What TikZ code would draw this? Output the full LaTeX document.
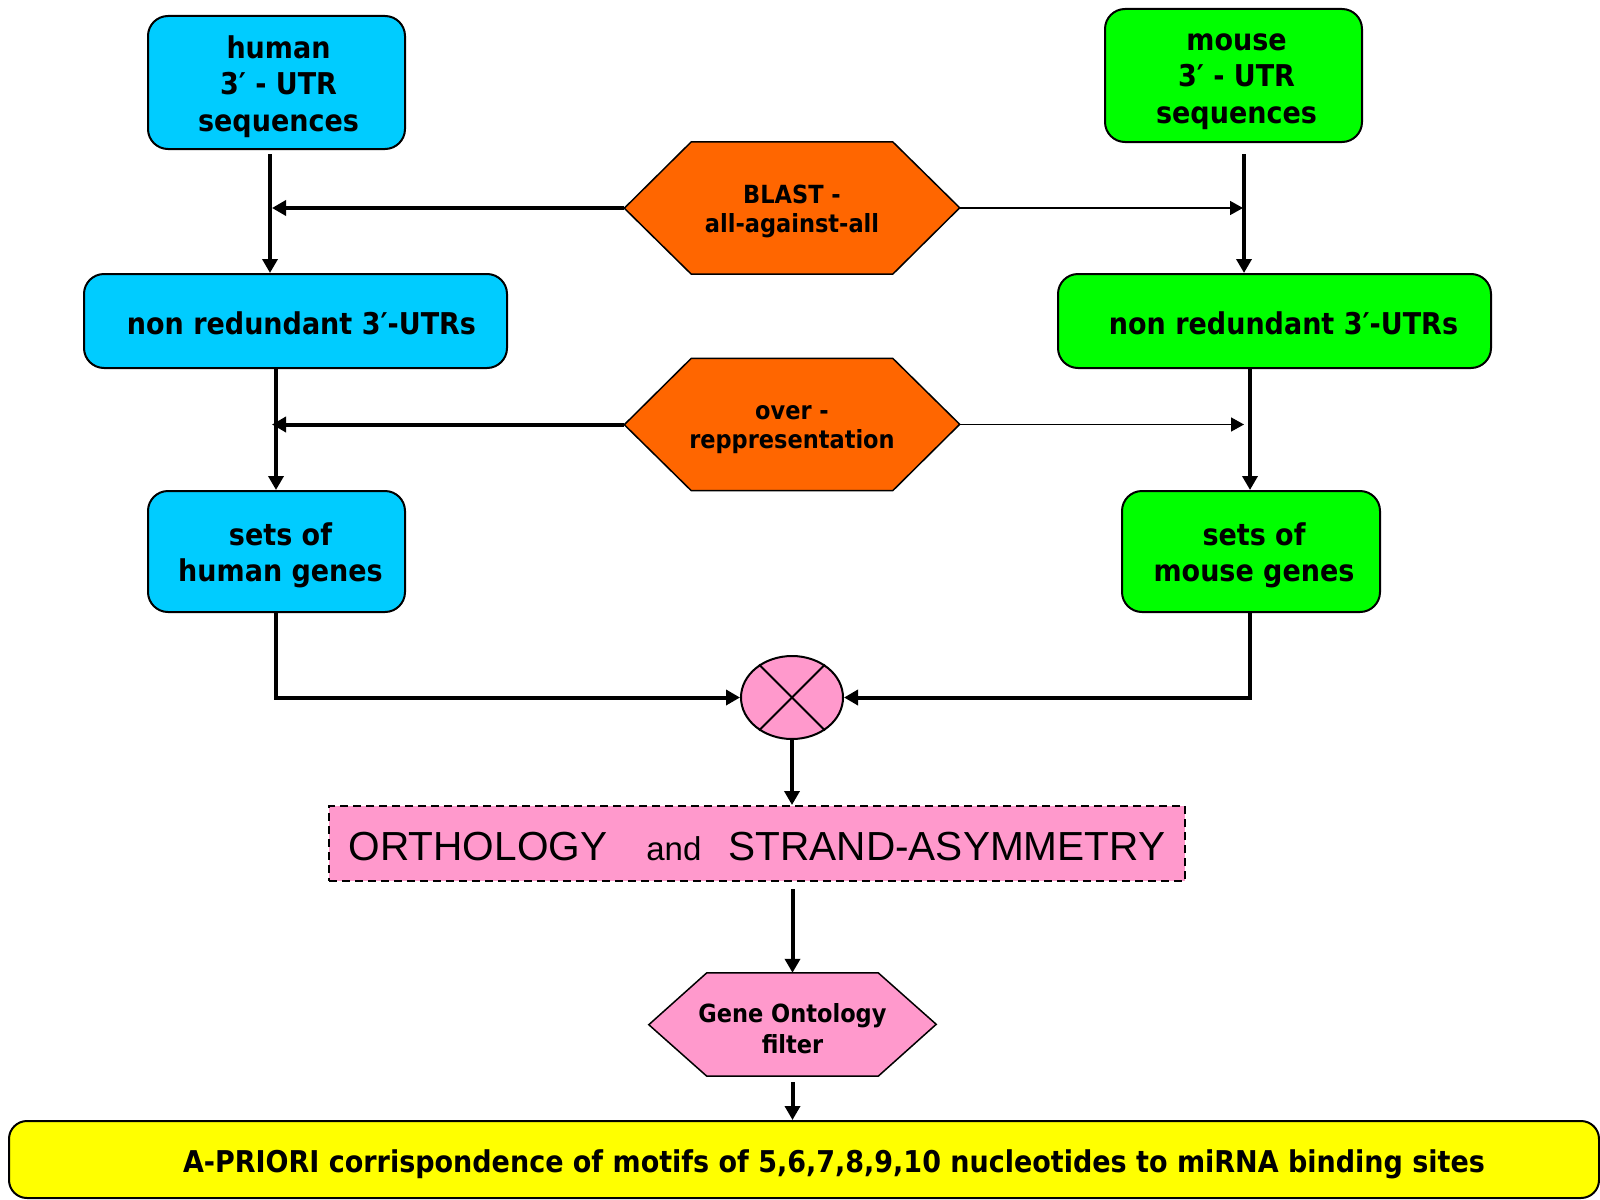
\documentclass[tikz,border=0pt]{standalone}
\usepackage{fontspec}
\newfontfamily\tah{DejaVu Sans Condensed Bold}
\newfontfamily\ari{Liberation Sans}
\usetikzlibrary{arrows.meta,shapes.geometric,backgrounds}
\definecolor{cyanbox}{RGB}{0,204,255}
\definecolor{greenbox}{RGB}{0,255,0}
\definecolor{orangehex}{RGB}{255,102,0}
\definecolor{pinkbox}{RGB}{255,153,204}
\definecolor{yellowbox}{RGB}{255,255,0}
\tikzset{
  rbox/.style={draw=black, line width=2pt, rounded corners=20pt, inner sep=0pt},
  boxtext/.style={align=center, inner sep=0pt, font=\tah\fontsize{30}{36.5}\selectfont},
  hexbox/.style={inner sep=0pt, minimum width=201pt},
  hextext/.style={align=center, inner sep=0pt, font=\tah\fontsize{25}{29.6}\selectfont},
  hexline/.style={draw=black, line width=1.5pt, line join=miter},
  arr/.style={line width=4pt, -{Triangle[length=14pt,width=15pt]}},
  thinarr/.style={line width=1.5pt, -{Triangle[length=13pt,width=14pt]}}
}
\begin{document}
\begin{tikzpicture}[x=1pt,y=-1pt]
\useasboundingbox (0,0) rectangle (1600,1199);

% boxes
\node[rbox, fill=cyanbox, minimum width=257pt, minimum height=133pt] (h1) at (276.5,82.5) {};
\node[boxtext] (h1t) at ([xshift=2pt,yshift=-4pt]h1.center) {human\\3′ - UTR\\sequences};
\node[rbox, fill=greenbox, minimum width=257pt, minimum height=133pt] (m1) at (1233.5,75.5) {};
\node[boxtext] (m1t) at ([xshift=3pt,yshift=-6pt]m1.center) {mouse\\3′ - UTR\\sequences};
\node[rbox, fill=cyanbox, minimum width=423pt, minimum height=94pt] (h2) at (295.5,321) {};
\node[boxtext] (h2t) at ([xshift=6pt,yshift=-2pt]h2.center) {non redundant 3′-UTRs};
\node[rbox, fill=greenbox, minimum width=433pt, minimum height=94pt] (m2) at (1274.5,321) {};
\node[boxtext] (m2t) at ([xshift=9pt,yshift=-2pt]m2.center) {non redundant 3′-UTRs};
\node[rbox, fill=cyanbox, minimum width=257pt, minimum height=121pt] (h3) at (276.5,551.5) {};
\node[boxtext] (h3t) at ([xshift=4pt,yshift=-4pt]h3.center) {sets of\\human genes};
\node[rbox, fill=greenbox, minimum width=258pt, minimum height=121pt] (m3) at (1251,551.5) {};
\node[boxtext] (m3t) at ([xshift=3pt,yshift=-4pt]m3.center) {sets of\\mouse genes};

% hexagons
\node[hexbox, minimum height=132pt] (blast) at (792,208) {};
\node[hexbox, minimum height=132pt] (over) at (792,424.5) {};
\node[inner sep=0pt, minimum width=171pt, minimum height=103pt] (go) at (792.5,1024.5) {};
\begin{scope}[on background layer]
  \fill[white] (0,0) rectangle (1600,1199);
  \draw[hexline, fill=orangehex] (blast.north west) -- (blast.north east) -- ++(67,66) -- (blast.south east) -- (blast.south west) -- ++(-67,-66) -- cycle;
  \draw[hexline, fill=orangehex] (over.north west) -- (over.north east) -- ++(67,66) -- (over.south east) -- (over.south west) -- ++(-67,-66) -- cycle;
  \draw[hexline, fill=pinkbox] (go.north west) -- (go.north east) -- ++(58,51.5) -- (go.south east) -- (go.south west) -- ++(-58,-51.5) -- cycle;
\end{scope}
\node[hextext] (blastt) at ([yshift=-3.5pt]blast.center) {BLAST -\\all-against-all};
\node[hextext] (overt) at ([yshift=-5pt]over.center) {over -\\reppresentation};
\node[hextext, font=\tah\fontsize{25}{31.6}\selectfont] (got) at ([yshift=-4pt]go.center) {Gene Ontology\\filter};
\coordinate (blastL) at ([xshift=-67pt]blast.west);
\coordinate (blastR) at ([xshift=67pt]blast.east);
\coordinate (overL) at ([xshift=-67pt]over.west);
\coordinate (overR) at ([xshift=67pt]over.east);

% combining circle
\node[ellipse, draw=black, line width=2pt, fill=pinkbox, minimum width=102pt, minimum height=83pt, inner sep=0pt] (circ) at (792,697.5) {};
\draw[line width=1.8pt] (circ.45) -- (circ.225);
\draw[line width=1.8pt] (circ.135) -- (circ.315);

% orthology box
\node[draw=black, line width=2pt, dash pattern=on 8pt off 5pt, fill=pinkbox, minimum width=856pt, minimum height=75pt, inner sep=0pt] (orth) at (757,843.5) {};
\node[inner sep=0pt] (ortht) at ([yshift=-3pt]orth.center)
  {\ari\fontsize{40.6}{44}\selectfont ORTHOLOGY\hspace{39pt}{\fontsize{33}{36}\selectfont and}\hspace{27pt}STRAND-ASYMMETRY};

% bottom box
\node[draw=black, line width=2pt, rounded corners=18pt, fill=yellowbox, minimum width=1590pt, minimum height=77pt, inner sep=0pt] (res) at (804,1159.5) {};
\node[inner sep=0pt, font=\tah\fontsize{30}{34}\selectfont] (rest) at ([xshift=30pt,yshift=-5pt]res.center)
  {A-PRIORI corrispondence of motifs of 5,6,7,8,9,10 nucleotides to miRNA binding sites};

% column x positions
\coordinate (hxa) at (270,0);
\coordinate (hxb) at (276,0);
\coordinate (mxa) at (1244,0);
\coordinate (mxb) at (1250,0);

% connectors
\draw[arr] ([yshift=-4pt]h1.south -| hxa) -- (h2.north -| hxa);
\draw[arr] ([yshift=-11pt]m1.south -| mxa) -- (m2.north -| mxa);
\draw[arr] (blastL) -- ([xshift=2pt]hxa |- blastL);
\draw[thinarr] (blastR) -- ([xshift=-1pt]mxa |- blastR);

\draw[arr] (h2.south -| hxb) -- (h3.north -| hxb);
\draw[arr] (m2.south -| mxb) -- (m3.north -| mxb);
\draw[arr] (overL) -- ([xshift=-4pt]hxb |- overL);
\draw[thinarr] (overR) -- ([xshift=-6pt]mxb |- overR);

\draw[arr] (h3.south -| hxb) |- (circ.west);
\draw[arr] (m3.south -| mxb) |- (circ.east);

\draw[arr] (circ.south) -- (orth.north -| circ.south);
\draw[arr] ([yshift=-7pt]orth.south -| go.north) -- (go.north);
\draw[arr] ([yshift=-6pt]go.south) -- (res.north -| go.south);
\end{tikzpicture}
\end{document}
